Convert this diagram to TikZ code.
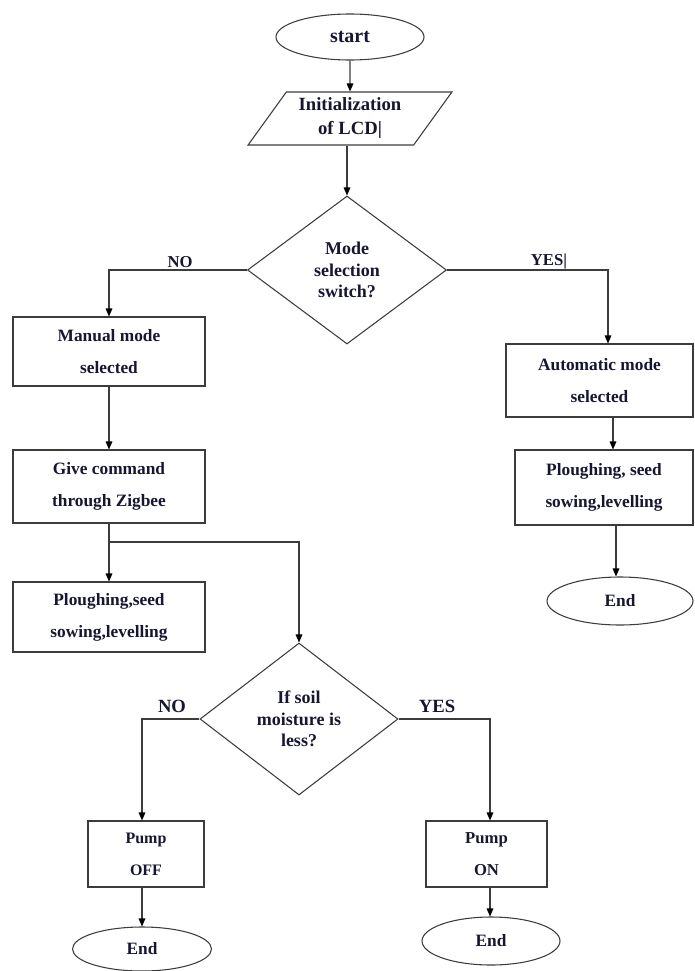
\documentclass[tikz,border=0pt]{standalone}
\usepackage{fontspec}
\setmainfont{Liberation Serif}
\usetikzlibrary{shapes.geometric,arrows.meta}
\definecolor{ink}{RGB}{22,22,48}
\definecolor{ln}{RGB}{60,60,60}
\begin{document}
\begin{tikzpicture}[x=0.75pt,y=-0.75pt,
  every node/.style={font=\bfseries\fontsize{13}{24}\selectfont, text=ink},
  shp/.style={draw=ln, line width=0.8pt, inner sep=0pt, align=center},
  box/.style={shp, rectangle},
  term/.style={shp, ellipse},
  dec/.style={shp, diamond, font=\bfseries\fontsize{13.5}{16}\selectfont},
  conn/.style={draw=ln, line width=0.8pt},
  arr/.style={conn, -{Triangle[length=6pt,width=5pt,color=black]}},
  lbl/.style={inner sep=0pt}
]
\useasboundingbox (0,0) rectangle (694,971);

% top
\node[term, minimum width=111pt, minimum height=34.5pt, font=\bfseries\fontsize{15}{18}\selectfont] (start) at (350,37) {start};
\node[shp, trapezium, trapezium left angle=53, trapezium right angle=127, trapezium stretches=true,
      minimum width=153pt, minimum height=39.75pt, font=\bfseries\fontsize{14}{18}\selectfont] (lcd) at (350,118.5) {Initialization\\of LCD|};
\node[dec, minimum width=149.25pt, minimum height=111pt] (d1) at (347,270) {Mode\\selection\\switch?};

% left column
\node[box, minimum width=144pt, minimum height=51.75pt] (manual) at (109,351.5) {Manual mode\\selected};
\node[box, minimum width=144pt, minimum height=54.75pt] (give) at (109,486.5) {Give command\\through Zigbee};
\node[box, minimum width=144pt, minimum height=52.5pt] (ploughL) at (109,617) {Ploughing,seed\\sowing,levelling};

% right column
\node[box, minimum width=140.25pt, minimum height=54.75pt] (auto) at (599.5,380.5) {Automatic mode\\selected};
\node[box, minimum width=133.5pt, minimum height=56.25pt] (ploughR) at (604,487.5) {Ploughing, seed\\sowing,levelling};
\node[term, minimum width=109.5pt, minimum height=36pt] (endR) at (620,601) {End};

% second decision
\node[dec, minimum width=148.5pt, minimum height=114pt] (d2) at (299,719) {If soil\\moisture is\\less?};
\node[box, minimum width=87pt, minimum height=49.5pt, font=\bfseries\fontsize{12}{24}\selectfont] (pumpoff) at (146,854) {Pump\\OFF};
\node[box, minimum width=90.75pt, minimum height=49.5pt, font=\bfseries\fontsize{12.5}{24}\selectfont] (pumpon) at (486.5,854) {Pump\\ON};
\node[term, minimum width=104.25pt, minimum height=33pt] (endL) at (142,949) {End};
\node[term, minimum width=103.5pt, minimum height=36pt] (endB) at (491,941) {End};

% labels
\node[lbl, font=\bfseries\fontsize{12.5}{14}\selectfont] (no1) at (180,262) {NO};
\node[lbl, font=\bfseries\fontsize{12.5}{14}\selectfont] (yes1) at (549,262) {YES|};
\node[lbl, font=\bfseries\fontsize{14}{16}\selectfont] (no2) at (172,706) {NO};
\node[lbl, font=\bfseries\fontsize{14}{16}\selectfont] (yes2) at (437,706) {YES};

% helper coordinates
\coordinate (ax) at (608,0);
\coordinate (br) at (109,542);
\coordinate (c1) at (142,0);
\coordinate (c2) at (490,0);
\coordinate (c3) at (613,0);
\coordinate (c4) at (616,0);

% connectors
\draw[arr] (start.south) -- (lcd.north);
\draw[arr] (lcd.south -| d1.north) -- (d1.north);
\draw[arr] (d1.west) -| (manual.north);
\draw[arr] (d1.east) -| (ax |- auto.north);
\draw[arr] (manual.south) -- (give.north);
\draw[arr] (give.south) -- (ploughL.north);
\draw[arr] (br) -| (d2.north);
\draw[arr] (c3 |- auto.south) -- (c3 |- ploughR.north);
\draw[arr] (c4 |- ploughR.south) -- (c4 |- endR.north);
\draw[arr] (d2.west) -| (c1 |- pumpoff.north);
\draw[arr] (d2.east) -| (c2 |- pumpon.north);
\draw[arr] (c1 |- pumpoff.south) -- (endL.north);
\draw[arr] (c2 |- pumpon.south) -- (c2 |- endB.north);
\end{tikzpicture}
\end{document}
